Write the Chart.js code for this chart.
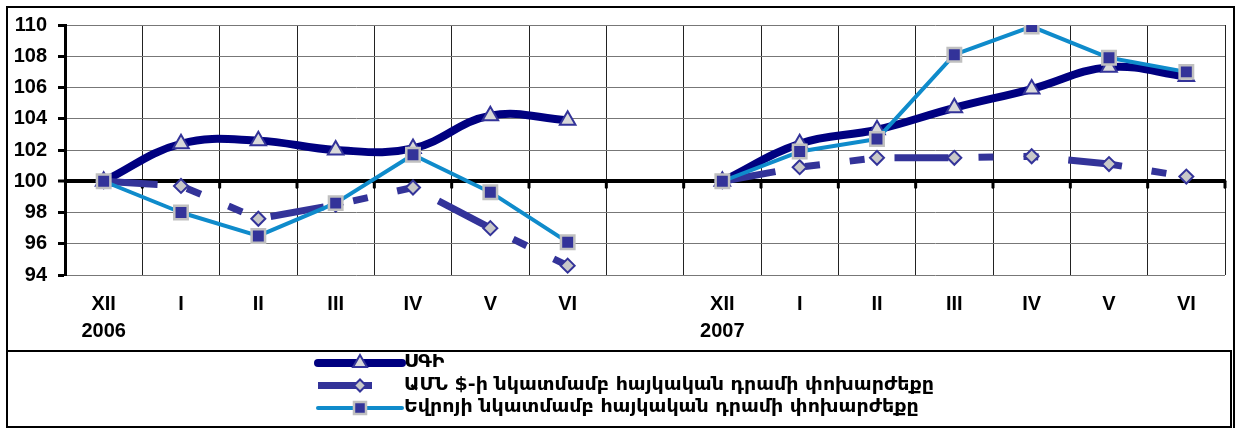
<!DOCTYPE html>
<html><head><meta charset="utf-8">
<script src="https://cdn.jsdelivr.net/npm/chart.js@4"></script>
<style>html,body{margin:0;padding:0;background:#fff;}canvas{display:block;}</style>
</head><body>
<canvas id="c" width="1237" height="428"></canvas>
<script>
// ---- data ----
const categories = [['XII','2006'],'I','II','III','IV','V','VI','',['XII','2007'],'I','II','III','IV','V','VI'];
const hiddenYearLabels = ['2007','2008'];
const seriesNames = ['ՍԳԻ','ԱՄՆ $-ի նկատմամբ հայկական դրամի փոխարժեքը','Եվրոյի նկատմամբ հայկական դրամի փոխարժեքը'];
const cpi = [100,102.4,102.6,102.0,102.1,104.2,103.9,null,100,102.4,103.3,104.7,105.9,107.3,106.7];
const usd = [100,99.7,97.6,98.5,99.6,97.0,94.6,null,100,100.9,101.5,101.5,101.6,101.1,100.3];
const eur = [100,98.0,96.5,98.6,101.7,99.3,96.1,null,100,101.9,102.7,108.1,109.9,107.9,107.0];
const yMin = 94, yMax = 110, yStep = 2, baseValue = 100;

// ---- styles ----
const FONT = "'Liberation Sans', Arial, sans-serif";
const LEGEND_FONT = "'DejaVu Sans', sans-serif";
const usdDash = [54,30,15,30,15,30];
const styles = [
  {color:'#000080', width:8, point:'triangle', radius:9, pbg:'#d9d9d9', pbd:'#333399', pbw:2, cap:'round', tension:0.4, dash:[], order:3},
  {color:'#333399', width:7, point:'rectRot', radius:7, pbg:'#c8c8c8', pbd:'#333399', pbw:2, cap:'butt', tension:0, dash:usdDash, order:2},
  {color:'#0f8bcb', width:4, point:'rect', radius:9.5, pbg:'#333399', pbd:'#c0c0c0', pbw:2.5, cap:'round', tension:0, dash:[], order:1}
];
const seriesData = [cpi, usd, eur];

const datasets = seriesData.map((d, i) => {
  const s = styles[i];
  return {
    label: seriesNames[i], data: d, order: s.order,
    borderColor: s.color, borderWidth: s.width, borderCapStyle: s.cap, borderJoinStyle: 'round',
    borderDash: s.dash, tension: s.tension, spanGaps: false, fill: false,
    pointStyle: s.point, pointRadius: s.radius, pointBackgroundColor: s.pbg,
    pointBorderColor: s.pbd, pointBorderWidth: s.pbw, pointHoverRadius: s.radius,
    segment: { borderDash: () => s.dash }
  };
});

const decor = {
  id: 'decor',
  beforeDatasetsDraw(chart) {
    const ctx = chart.ctx, x = chart.scales.x, y = chart.scales.y;
    const y0 = y.getPixelForValue(baseValue);
    const half = (x.getPixelForValue(1) - x.getPixelForValue(0)) / 2;
    ctx.save();
    ctx.strokeStyle = '#000'; ctx.lineWidth = 3; ctx.lineCap = 'round';
    for (let i = 0; i < categories.length; i++) {
      const px = x.getPixelForValue(i) + half;
      ctx.beginPath(); ctx.moveTo(px, y0); ctx.lineTo(px, y0 + 6); ctx.stroke();
    }
    ctx.restore();
  },
  afterDraw(chart) {
    const ctx = chart.ctx, x = chart.scales.x;
    ctx.save();
    // second-level year labels mostly hidden behind the legend box
    ctx.fillStyle = '#000'; ctx.font = 'bold 20px ' + FONT;
    ctx.textAlign = 'center'; ctx.textBaseline = 'middle';
    ctx.fillText(hiddenYearLabels[0], x.getPixelForValue(4) + 7, 358);
    ctx.fillText(hiddenYearLabels[1], x.getPixelForValue(11), 358);
    // legend box
    ctx.fillStyle = '#fff'; ctx.fillRect(7, 351, 1224, 76);
    ctx.strokeStyle = '#000'; ctx.lineWidth = 2; ctx.strokeRect(7, 351, 1224, 76);
    // legend entries
    const lf = 'bold 17px ' + LEGEND_FONT;
    ctx.font = lf;
    const w2 = ctx.measureText(seriesNames[1]).width;
    const sx = Math.max(0.7, Math.min(1.5, 530 / w2));
    const rows = [363, 385.5, 408];
    const x0 = 318, x1 = 402, xm = 360;
    styles.forEach((s, i) => {
      const ry = rows[i];
      ctx.save();
      ctx.strokeStyle = s.color; ctx.lineWidth = s.width; ctx.lineCap = s.cap;
      ctx.setLineDash(s.dash);
      ctx.beginPath(); ctx.moveTo(x0, ry); ctx.lineTo(x1, ry); ctx.stroke();
      ctx.setLineDash([]);
      ctx.fillStyle = s.pbg; ctx.strokeStyle = s.pbd; ctx.lineWidth = s.pbw;
      Chart.helpers.drawPoint(ctx, {pointStyle: s.point, radius: s.radius - 1, borderWidth: s.pbw, rotation: 0}, xm, ry);
      ctx.restore();
      ctx.save();
      ctx.fillStyle = '#000'; ctx.font = lf;
      ctx.textAlign = 'left'; ctx.textBaseline = 'middle';
      ctx.translate(404, ry); ctx.scale(sx, 1);
      ctx.fillText(seriesNames[i], 0, 0);
      ctx.restore();
    });
    // outer frame
    ctx.strokeStyle = '#000'; ctx.lineWidth = 2;
    ctx.strokeRect(7, 7, 1227, 432);
    ctx.restore();
  }
};

new Chart(document.getElementById('c'), {
  type: 'line',
  data: { labels: categories, datasets },
  options: {
    responsive: false, animation: false, devicePixelRatio: 1,
    layout: { padding: { left: 0, right: 8, top: 25, bottom: 0 } },
    plugins: { legend: { display: false }, tooltip: { enabled: false } },
    events: [],
    scales: {
      x: {
        type: 'category', offset: true,
        grid: { offset: true, color: '#222', lineWidth: 1, drawTicks: false },
        border: { display: false },
        ticks: { color: '#000', font: { family: FONT, size: 20, weight: 'bold', lineHeight: 1.35 }, padding: 16, autoSkip: false, maxRotation: 0 },
        afterFit(scale) { scale.height = 153; }
      },
      y: {
        min: yMin, max: yMax,
        grid: {
          color: (c) => c.tick && c.tick.value === baseValue ? '#000' : '#777',
          lineWidth: (c) => c.tick && c.tick.value === baseValue ? 4 : 1,
          tickColor: '#000', tickLength: 7, tickWidth: 3
        },
        border: { display: true, color: '#000', width: 3 },
        ticks: { stepSize: yStep, color: '#000', font: { family: FONT, size: 20, weight: 'bold' }, padding: 11 },
        afterFit(scale) { scale.width = 65; }
      }
    }
  },
  plugins: [decor]
});
</script>
</body></html>
